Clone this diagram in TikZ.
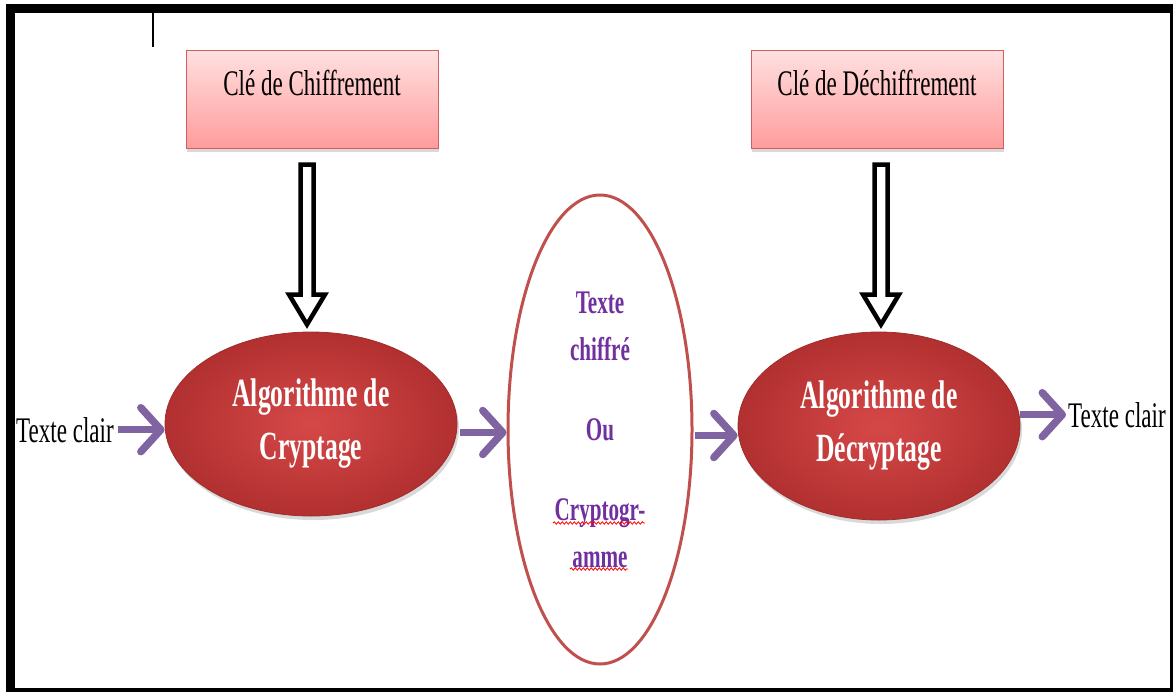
\documentclass[tikz,border=0pt]{standalone}
\usepackage{fontspec}
\setmainfont[FakeStretch=0.64]{Liberation Serif}
\usetikzlibrary{shapes.geometric,arrows.meta,shadows,calc,decorations.pathmorphing}
\definecolor{ered}{RGB}{214,72,72}
\definecolor{eredout}{RGB}{178,48,48}
\definecolor{eedge}{RGB}{160,45,45}
\definecolor{boxtop}{RGB}{255,224,224}
\definecolor{boxbot}{RGB}{255,156,156}
\definecolor{boxedge}{RGB}{210,95,95}
\definecolor{arrpurple}{RGB}{128,100,162}
\definecolor{txtpurple}{RGB}{112,48,160}
\definecolor{midred}{RGB}{192,80,77}
\begin{document}
\begin{tikzpicture}[x=1pt,y=-1pt,
  keybox/.style={rectangle, draw=boxedge, line width=1pt, top color=boxtop, bottom color=boxbot,
    minimum width=252pt, text height=45pt, text depth=53pt, inner sep=0pt,
    font=\fontsize{36}{40}\selectfont,
    drop shadow={opacity=0.3, shadow xshift=1pt, shadow yshift=-4pt}},
  algo/.style={ellipse, inner color=ered, outer color=eredout, draw=eedge, line width=0.8pt,
    text=white, align=center, inner sep=0pt,
    font=\bfseries\fontsize{40}{53}\selectfont,
    drop shadow={opacity=0.3, shadow xshift=2pt, shadow yshift=-4pt}},
  midell/.style={ellipse, draw=midred, line width=3pt, inner sep=0pt, align=center,
    text=txtpurple, font=\bfseries\fontsize{33}{47}\selectfont},
  plain/.style={inner sep=2pt, font=\fontsize{36}{40}\selectfont},
  parrow/.style={draw=arrpurple, line width=7.5pt, -{Straight Barb[length=20pt,width=44pt,round]}},
  hollow/.style={draw=black, fill=white, line width=4.5pt, line join=miter},
  wavy/.style={draw=red, line width=0.8pt, decorate, decoration={snake, amplitude=1.2pt, segment length=4pt}}
]
\useasboundingbox (0,0) rectangle (1173,691);
\draw[line width=9pt] (10,8) rectangle (1174,692);
\coordinate (cur1) at (153,12);
\coordinate (cur2) at (153,47);
\draw[line width=2.5pt] (cur1) -- (cur2);

% key boxes
\node[keybox, anchor=base] (k1) at (312,95) {Clé de Chiffrement};
\node[keybox, anchor=base] (k2) at (877,95) {Clé de Déchiffrement};

% ellipses
\node[algo, minimum width=292pt, minimum height=184pt] (e1) at (311,424) {Algorithme de\\Cryptage};
\node[algo, minimum width=282pt, minimum height=188pt] (e2) at (879,426) {Algorithme de\\Décryptage};
\node[midell, minimum width=184pt, minimum height=469pt] (mid) at (600,429.5)
  {Texte\\chiffré\\[33pt]Ou\\[33pt]Cryptogr-\\amme};
\draw[wavy] ($(mid.center)+(-47,93.5)$) -- ($(mid.center)+(45,93.5)$);
\draw[wavy] ($(mid.center)+(-30,139.5)$) -- ($(mid.center)+(28,139.5)$);

% plain texts
\node[plain, anchor=base] (tcl) at (65,442) {Texte clair};
\node[plain, anchor=base] (tcr) at (1117,427) {Texte clair};

% hollow arrows from keys
\begin{scope}[shift={($(k1.south)+(-5,0)$)}]
\draw[hollow] (-6.5,16) -- (6.5,16) -- (6.5,146) -- (18,146) -- (0,176) -- (-18,146) -- (-6.5,146) -- cycle;
\end{scope}
\begin{scope}[shift={($(k2.south)+(4,0)$)}]
\draw[hollow] (-6.5,16) -- (6.5,16) -- (6.5,146) -- (18,146) -- (0,176) -- (-18,146) -- (-6.5,146) -- cycle;
\end{scope}

% purple arrows
\draw[parrow] ($(tcl.east)+(2,0)$) -- (tcl.east -| e1.west);
\draw[parrow] ($(mid.west -| e1.east)+(3,3)$) -- ($(mid.west)+(0,3)$);
\draw[parrow] ($(mid.east)+(1,6)$) -- ($(mid.east -| e2.west)+(0,6)$);
\draw[parrow] ($(tcr.west -| e2.east)+(0,0)$) -- (tcr.west);
\end{tikzpicture}
\end{document}
